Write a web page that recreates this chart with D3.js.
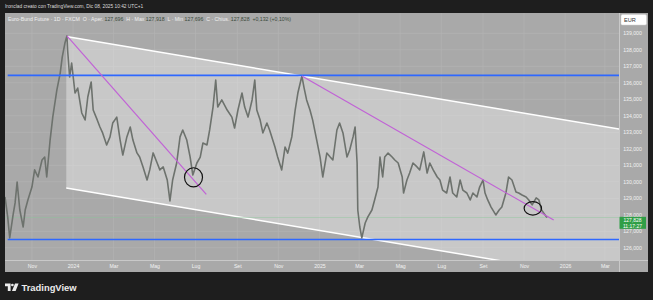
<!DOCTYPE html>
<html><head><meta charset="utf-8">
<script src="https://cdn.jsdelivr.net/npm/d3@7"></script>
<style>
html,body{margin:0;padding:0;background:#1e1e1e;overflow:hidden;}
svg{display:block;}
text{font-family:"Liberation Sans",Arial,sans-serif;}
</style></head><body>
<svg id="c" width="653" height="300"></svg>
<script>
// ---------- DATA ----------
const dates = ["2023-09-22","2023-09-26","2023-09-29","2023-10-04","2023-10-07","2023-10-10","2023-10-14","2023-10-19","2023-10-22","2023-10-26",
"2023-11-01","2023-11-05","2023-11-10","2023-11-16","2023-11-20","2023-11-23","2023-11-28","2023-12-02","2023-12-08","2023-12-13",
"2023-12-16","2023-12-20","2023-12-23","2023-12-24","2023-12-27","2023-12-30","2024-01-04","2024-01-08","2024-01-14","2024-01-19",
"2024-01-23","2024-01-28","2024-01-31","2024-02-06","2024-02-10","2024-02-14","2024-02-20","2024-02-25","2024-02-29","2024-03-06",
"2024-03-11","2024-03-15","2024-03-21","2024-03-26","2024-03-30","2024-04-05","2024-04-09","2024-04-14","2024-04-20","2024-04-24",
"2024-04-29","2024-05-05","2024-05-09","2024-05-14","2024-05-20","2024-05-24","2024-05-28","2024-06-03","2024-06-08","2024-06-12",
"2024-06-18","2024-06-23","2024-06-27","2024-07-03","2024-07-08","2024-07-12","2024-07-18","2024-07-22","2024-07-27","2024-07-31",
"2024-08-03","2024-08-09","2024-08-17","2024-08-24","2024-08-28","2024-09-02","2024-09-08","2024-09-12","2024-09-17","2024-09-23",
"2024-09-27","2024-09-30","2024-10-05","2024-10-09","2024-10-15","2024-10-19","2024-10-27","2024-10-31","2024-11-06","2024-11-11",
"2024-11-15","2024-11-21","2024-11-26","2024-11-30","2024-12-06","2024-12-09","2024-12-13","2024-12-18","2024-12-22","2024-12-28",
"2025-01-02","2025-01-06","2025-01-12","2025-01-17","2025-01-21","2025-01-27","2025-01-31","2025-02-05","2025-02-11","2025-02-15",
"2025-02-20","2025-02-23","2025-02-26","2025-02-27","2025-03-02","2025-03-05","2025-03-10","2025-03-14","2025-03-20","2025-03-24",
"2025-03-29","2025-04-01","2025-04-05","2025-04-08","2025-04-13","2025-04-19","2025-04-23","2025-04-28","2025-05-04","2025-05-06",
"2025-05-11","2025-05-15","2025-05-20","2025-05-26","2025-05-30","2025-06-05","2025-06-10","2025-06-14","2025-06-19","2025-06-25",
"2025-06-29","2025-07-03","2025-07-09","2025-07-14","2025-07-18","2025-07-24","2025-07-29","2025-08-02","2025-08-08","2025-08-13",
"2025-08-17","2025-08-23","2025-08-27","2025-09-01","2025-09-04","2025-09-08","2025-09-13","2025-09-20","2025-09-25","2025-09-29",
"2025-10-05","2025-10-09","2025-10-14","2025-10-20","2025-10-24","2025-10-29","2025-11-04","2025-11-08","2025-11-13","2025-11-19",
"2025-11-23","2025-11-27","2025-12-05"];

const prices = [129.08,127.87,126.60,128.00,128.72,129.99,128.29,127.26,128.29,128.90,
129.68,130.72,130.29,131.32,131.50,130.29,132.53,133.93,135.56,136.59,
137.56,138.41,138.84,137.99,136.35,137.20,135.38,135.68,134.17,133.75,
135.14,136.05,134.35,133.75,133.32,132.96,132.23,132.72,133.56,133.92,
132.53,131.62,132.72,133.32,132.53,131.75,131.50,130.90,130.11,130.72,
131.75,131.14,130.72,130.90,130.11,128.84,130.11,131.14,132.72,133.14,
132.53,131.50,130.41,131.14,131.50,132.35,132.23,133.14,134.53,136.17,
134.53,134.96,134.35,133.92,133.26,134.35,135.38,134.53,133.92,134.96,
136.17,134.35,133.74,132.96,133.56,133.14,132.11,131.50,130.72,132.11,
131.74,132.72,134.35,135.38,136.41,135.74,134.96,134.35,133.74,132.53,
131.50,130.29,131.74,131.50,131.32,133.14,133.56,132.96,131.50,131.93,
132.72,133.32,131.14,128.29,127.26,126.60,127.50,127.87,128.29,128.90,
129.68,131.50,130.29,131.50,131.74,131.50,131.32,131.14,130.29,129.32,
130.11,130.53,131.14,130.90,130.72,131.81,130.53,131.14,130.72,130.29,
130.11,129.50,129.32,130.29,129.32,129.08,130.11,129.50,129.32,128.90,
129.32,129.08,129.68,130.11,129.32,128.90,128.47,127.99,128.29,128.47,
129.32,130.29,130.11,129.38,129.32,129.20,129.08,128.90,128.60,129.02,
128.90,128.29,127.83];

const timeTicks = ["2023-11-01","2024-01-01","2024-03-01","2024-05-01","2024-07-01","2024-09-01","2024-11-01",
"2025-01-01","2025-03-01","2025-05-01","2025-07-01","2025-09-01","2025-11-01","2026-01-01","2026-03-01"];
const timeTickLabels = ["Nov","2024","Mar","Mag","Lug","Set","Nov","2025","Mar","Mag","Lug","Set","Nov","2026","Mar"];
const priceTicks = [126,127,128,129,130,131,132,133,134,135,136,137,138,139];

// drawings (date, price)
const channelUpper = [["2023-12-22",138.80],["2024-12-06",136.41]];
const channelLowerAnchor = ["2023-12-22",129.62];
const horizontalLevels = [136.45, 126.50];
const horizontalStart = "2023-09-26";
const trendLines = [
  [["2023-12-23",138.84],["2024-07-17",129.24]],
  [["2024-12-06",136.41],["2025-12-15",127.68]]
];
const circleCenters = [["2024-06-28",130.27],["2025-11-14",128.39]];
const lastPrice = 127.828;
const lastTime = "11:17:27";
const titleText = "Ironclad creato con TradingView.com, Dic 08, 2025 10:42 UTC+1";
const legendParts = [
  ["Euro-Bund Future · 1D · FXCM  ", "l"], ["O · Aper. ", "l"], ["127,696", "v"],
  ["  H · Max ", "l"], ["127,918", "v"], ["  L · Min ", "l"], ["127,696", "v"],
  ["  C · Chius. ", "l"], ["127,828", "v"], ["  +0,132 (+0,10%)", "v"]
];

// ---------- LAYOUT ----------
const W = 653, H = 300;
const panel = {x0:5, y0:13, x1:648, y1:272};
const plot = {x0:5, y0:13, x1:619, y1:260};

const svg = d3.select("#c");
const parse = d3.utcParse("%Y-%m-%d");
const it = d3.formatLocale({decimal:",", thousands:".", grouping:[3], currency:["€",""]});
const fmt = it.format(".3f");

const x = d3.scaleUtc().domain([parse("2023-09-22"), parse("2026-03-22")]).range([plot.x0, plot.x1]);
const y = d3.scaleLinear().domain([125.26, 140.23]).range([plot.y1, plot.y0]);

// background
svg.append("rect").attr("width",W).attr("height",H).attr("fill","#1e1e1e");
svg.append("rect").attr("x",panel.x0).attr("y",panel.y0).attr("width",panel.x1-panel.x0).attr("height",panel.y1-panel.y0).attr("fill","#a9a9a9");

const defs = svg.append("defs");
defs.append("clipPath").attr("id","clip").append("rect")
  .attr("x",plot.x0).attr("y",plot.y0).attr("width",plot.x1-plot.x0).attr("height",plot.y1-plot.y0);

// grid
const grid = svg.append("g").attr("stroke","#b3b3b3").attr("stroke-width",0.7);
grid.selectAll("line.v").data(timeTicks).join("line")
  .attr("x1",d=>x(parse(d))).attr("x2",d=>x(parse(d))).attr("y1",plot.y0).attr("y2",plot.y1);
grid.selectAll("line.h").data(priceTicks).join("line")
  .attr("x1",plot.x0).attr("x2",plot.x1).attr("y1",d=>y(d)).attr("y2",d=>y(d));

const g = svg.append("g").attr("clip-path","url(#clip)");

// channel
const pA = [x(parse(channelUpper[0][0])), y(channelUpper[0][1])];
const pB = [x(parse(channelUpper[1][0])), y(channelUpper[1][1])];
const slope = (pB[1]-pA[1])/(pB[0]-pA[0]);
const pC = [x(parse(channelLowerAnchor[0])), y(channelLowerAnchor[1])];
const xR = plot.x1 + 2;
const upR = [xR, pA[1] + slope*(xR-pA[0])];
const loR = [xR, pC[1] + slope*(xR-pC[0])];
g.append("path").attr("d", d3.line()([pA, upR, loR, pC])).attr("fill","rgba(255,255,255,0.36)");
g.append("line").attr("x1",pA[0]).attr("y1",pA[1]).attr("x2",upR[0]).attr("y2",upR[1]).attr("stroke","#ffffff").attr("stroke-width",1.5);
g.append("line").attr("x1",pC[0]).attr("y1",pC[1]).attr("x2",loR[0]).attr("y2",loR[1]).attr("stroke","#ffffff").attr("stroke-width",1.5);

// last price line
g.append("line").attr("x1",plot.x0).attr("x2",plot.x1).attr("y1",y(lastPrice)).attr("y2",y(lastPrice))
  .attr("stroke","#8cc79a").attr("stroke-width",0.6).attr("opacity",0.8);

// price series
const series = dates.map((d,i)=>({t:parse(d), v:prices[i]}));
g.append("path").datum(series)
  .attr("d", d3.line().x(d=>x(d.t)).y(d=>y(d.v)))
  .attr("fill","none").attr("stroke","#6d726d").attr("stroke-width",1.6).attr("stroke-linejoin","round");

// horizontal levels
g.selectAll("line.lvl").data(horizontalLevels).join("line")
  .attr("x1", x(parse(horizontalStart))).attr("x2", plot.x1)
  .attr("y1", d=>y(d)).attr("y2", d=>y(d))
  .attr("stroke","#2f68ff").attr("stroke-width",1.6);

// trend lines
g.selectAll("line.tr").data(trendLines).join("line")
  .attr("x1", d=>x(parse(d[0][0]))).attr("y1", d=>y(d[0][1]))
  .attr("x2", d=>x(parse(d[1][0]))).attr("y2", d=>y(d[1][1]))
  .attr("stroke","#c162d6").attr("stroke-width",1.2);

// circles
const radii = [[9,9.6],[8.7,6.7]];
g.selectAll("ellipse").data(circleCenters).join("ellipse")
  .attr("cx", d=>x(parse(d[0]))).attr("cy", d=>y(d[1]))
  .attr("rx", (d,i)=>radii[i][0]).attr("ry", (d,i)=>radii[i][1])
  .attr("fill","none").attr("stroke","#111").attr("stroke-width",1.2);

// axis separators
svg.append("line").attr("x1",plot.x1+0.5).attr("x2",plot.x1+0.5).attr("y1",panel.y0).attr("y2",panel.y1).attr("stroke","#c9c9c9").attr("stroke-width",1);
svg.append("line").attr("x1",panel.x0).attr("x2",panel.x1).attr("y1",plot.y1+0.5).attr("y2",plot.y1+0.5).attr("stroke","#c9c9c9").attr("stroke-width",1);

// price axis labels
const yAxis = d3.axisRight(y).tickValues(priceTicks).tickFormat(fmt).tickSize(0).tickPadding(0);
const ya = svg.append("g").attr("transform",`translate(${(plot.x1+panel.x1)/2 - 1},0)`).call(yAxis);
ya.select(".domain").remove();
ya.selectAll("text").attr("fill","#f2f2f2").attr("font-size",5.2).attr("text-anchor","middle")
  .attr("font-family","'Liberation Sans',Arial,sans-serif");

// time axis labels
const xAxis = d3.axisBottom(x).tickValues(timeTicks.map(parse)).tickFormat((d,i)=>timeTickLabels[i]).tickSize(0).tickPadding(0);
const xa = svg.append("g").attr("transform",`translate(0,${plot.y1+4})`).call(xAxis);
xa.select(".domain").remove();
xa.selectAll("text").attr("fill","#f2f2f2").attr("font-size",5.2)
  .attr("font-family","'Liberation Sans',Arial,sans-serif");

// EUR box
svg.append("rect").attr("x",621).attr("y",14.5).attr("width",25.5).attr("height",10.5).attr("rx",1.5)
  .attr("fill","#ffffff").attr("stroke","#d0d0d0").attr("stroke-width",0.5);
svg.append("text").attr("x",624).attr("y",22).attr("font-size",5.6).attr("fill","#333").text("EUR");

// last price box
const ly = y(lastPrice);
svg.append("rect").attr("x",plot.x1+0.5).attr("y",ly-0.8).attr("width",26.5).attr("height",12)
  .attr("fill","#2f9e46");
svg.append("text").attr("x",(plot.x1+panel.x1)/2 - 1).attr("y",ly+4.7).attr("text-anchor","middle")
  .attr("font-size",5.0).attr("fill","#ffffff").text(fmt(lastPrice));
svg.append("text").attr("x",(plot.x1+panel.x1)/2 - 1).attr("y",ly+9.9).attr("text-anchor","middle")
  .attr("font-size",5.0).attr("fill","#ffffff").text(lastTime);

// title
svg.append("text").attr("x",5).attr("y",8.3).attr("font-size",4.8).attr("fill","#dcdcdc").text(titleText);

// legend
const lg = svg.append("text").attr("x",8).attr("y",20.5).attr("font-size",5.2).attr("xml:space","preserve");
lg.selectAll("tspan").data(legendParts).join("tspan")
  .attr("fill", d=> d[1]==="l" ? "#f0f0f0" : "#3b4a3b").text(d=>d[0]);

// TradingView logo
const logo = svg.append("g").attr("fill","#ececec");
logo.append("path").attr("d","M5,283.6 H10.6 V291 H7.8 V286.3 H5 Z");
logo.append("circle").attr("cx",12.4).attr("cy",285).attr("r",1.35);
logo.append("path").attr("d","M15,283.6 H18.6 L15.6,291 H12 Z");
svg.append("text").attr("x",21.5).attr("y",291).attr("font-size",9.4).attr("font-weight",600)
  .attr("fill","#ececec").attr("font-family","'Open Sans','Liberation Sans',Arial,sans-serif").text("TradingView");
</script>
</body></html>
